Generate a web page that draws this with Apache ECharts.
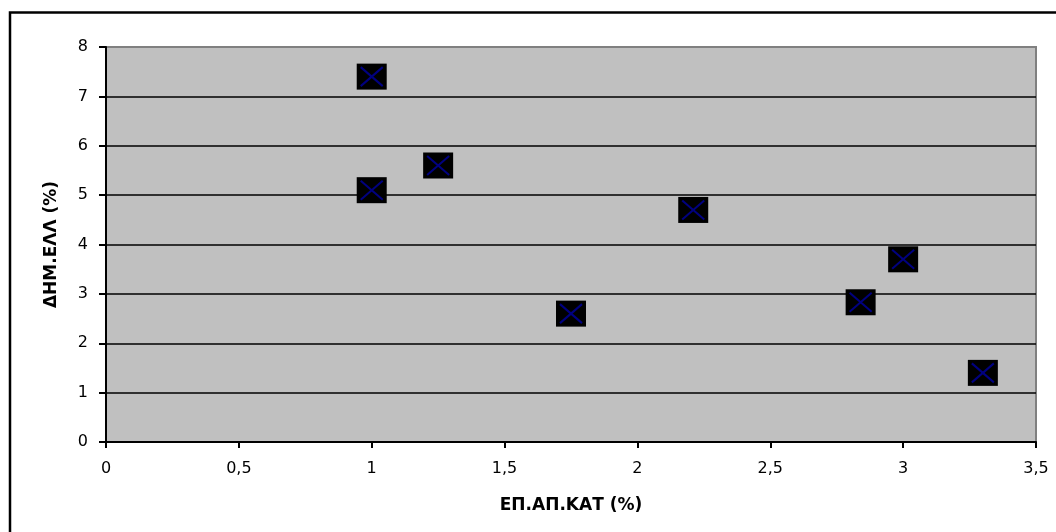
<!DOCTYPE html>
<html>
<head>
<meta charset="utf-8">
<script src="https://cdn.jsdelivr.net/npm/echarts@6/dist/echarts.min.js"></script>
<style>html,body{margin:0;padding:0;background:#fff;}#c{width:1056px;height:532px;}</style>
</head>
<body>
<div id="c"></div>
<script>
const xValues = [1.0, 1.0, 1.25, 1.75, 2.21, 2.84, 3.0, 3.3];
const yValues = [7.4, 5.1, 5.6, 2.6, 4.7, 2.83, 3.7, 1.4];
const xAxisName = 'ΕΠ.ΑΠ.ΚΑΤ (%)';
const yAxisName = 'ΔΗΜ.ΕΛΛ (%)';

const points = xValues.map((x, i) => [x, yValues[i]]);
const font = '"DejaVu Sans", sans-serif';

const chart = echarts.init(document.getElementById('c'), null, {renderer: 'canvas'});
chart.setOption({
  backgroundColor: '#fff',
  animation: false,
  grid: {
    left: 106, top: 47, right: 20, bottom: 90,
    show: true, backgroundColor: '#C0C0C0', borderColor: '#808080', borderWidth: 2
  },
  xAxis: {
    type: 'value', min: 0, max: 3.5, interval: 0.5,
    name: xAxisName, nameLocation: 'middle', nameGap: 64,
    nameTextStyle: {fontFamily: font, fontSize: 17, fontWeight: 'bold', color: '#000', verticalAlign: 'middle'},
    axisLine: {show: true, onZero: false, lineStyle: {color: '#000', width: 2}},
    axisTick: {show: true, inside: false, length: 6, lineStyle: {color: '#000', width: 2}},
    axisLabel: {fontFamily: font, fontSize: 16, color: '#000', margin: 19,
      formatter: v => String(v).replace('.', ',')},
    splitLine: {show: false}
  },
  yAxis: {
    type: 'value', min: 0, max: 8, interval: 1,
    name: yAxisName, nameLocation: 'middle', nameGap: 54,
    nameTextStyle: {fontFamily: font, fontSize: 17, fontWeight: 'bold', color: '#000', verticalAlign: 'middle'},
    axisLine: {show: true, onZero: false, lineStyle: {color: '#000', width: 2}},
    axisTick: {show: true, inside: false, length: 7, lineStyle: {color: '#000', width: 2}},
    axisLabel: {fontFamily: font, fontSize: 16, color: '#000', margin: 18},
    splitLine: {show: true, lineStyle: {color: ['#000','#000','#000','#000','#000','#000','#000','#000','#808080'], width: 1.5}}
  },
  graphic: [
    {type: 'polyline', z: 100, shape: {points: [[10, 532], [10, 12.5], [1056, 12.5]]},
     style: {stroke: '#000', lineWidth: 2.5, fill: null}}
  ],
  series: [{
    type: 'custom',
    data: points,
    clip: false,
    renderItem: function (params, api) {
      const p = api.coord([api.value(0), api.value(1)]);
      return {
        type: 'group',
        children: [
          {type: 'rect', shape: {x: p[0] - 15, y: p[1] - 13, width: 30, height: 26}, style: {fill: '#000'}},
          {type: 'line', shape: {x1: p[0] - 11, y1: p[1] - 9.5, x2: p[0] + 11, y2: p[1] + 9.5}, style: {stroke: '#000080', lineWidth: 2}},
          {type: 'line', shape: {x1: p[0] - 11, y1: p[1] + 9.5, x2: p[0] + 11, y2: p[1] - 9.5}, style: {stroke: '#000080', lineWidth: 2}}
        ]
      };
    }
  }]
});
</script>
</body>
</html>
